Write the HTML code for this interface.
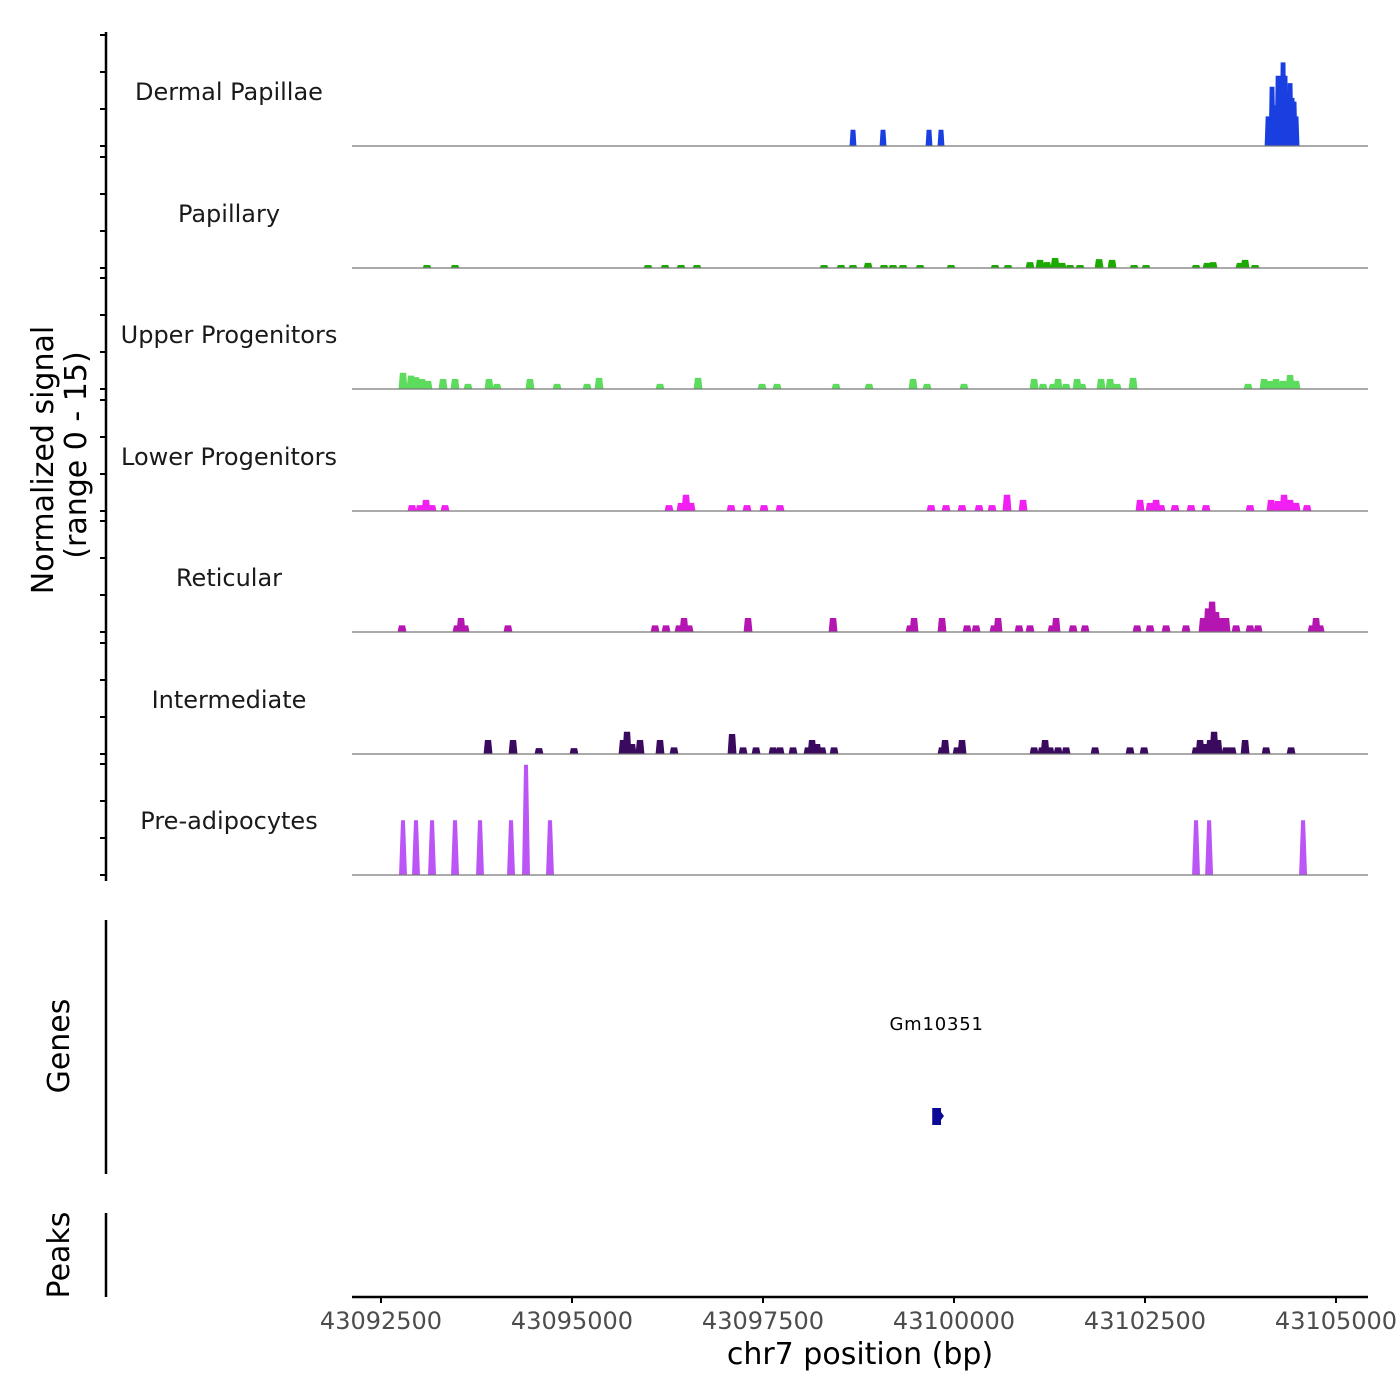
<!DOCTYPE html>
<html><head><meta charset="utf-8"><style>
html,body{margin:0;padding:0;background:#fff;}
svg{display:block;font-family:"DejaVu Sans","Liberation Sans",sans-serif;}
</style></head><body>
<svg id="chart" width="1400" height="1400" viewBox="0 0 1400 1400" xmlns="http://www.w3.org/2000/svg">
<g id="tracks"></g>
<g id="axes"></g>
</svg>
<script>
const trackNames = ["Dermal Papillae","Papillary","Upper Progenitors","Lower Progenitors","Reticular","Intermediate","Pre-adipocytes"];
const trackColors = ["#1a3fe0","#1aaa00","#5ddb5d","#f21ff2","#b515b0","#3a0a5e","#bb55f5"];
const xTicks = [43092500,43095000,43097500,43100000,43102500,43105000];
const xDomain = [43092000, 43105420];
// peak arrays: [center bp, value]
const dpPeaks = [[43098678,2.2],[43099071,2.2],[43099673,2.2],[43099830,2.2],[43104111,4],[43104163,8],[43104202,5.5],[43104242,9.5],[43104281,8],[43104307,11.3],[43104333,9.5],[43104373,6.5],[43104399,8.5],[43104425,6.5],[43104451,6],[43104477,4]];
const papPeaks = [[43093102,0.4],[43093469,0.4],[43095995,0.4],[43096218,0.4],[43096427,0.4],[43096636,0.4],[43098299,0.4],[43098521,0.4],[43098678,0.4],[43098875,0.7],[43099084,0.4],[43099202,0.4],[43099333,0.4],[43099556,0.4],[43099961,0.4],[43100537,0.4],[43100707,0.4],[43100995,0.8],[43101126,1.1],[43101218,0.8],[43101323,1.35],[43101414,0.7],[43101519,0.4],[43101650,0.4],[43101899,1.2],[43102069,1.1],[43102357,0.4],[43102514,0.4],[43103168,0.4],[43103312,0.7],[43103391,0.8],[43103744,0.7],[43103810,1.1],[43103941,0.4]];
const upPeaks = [[43092788,2.2],[43092893,1.8],[43092958,1.6],[43093037,1.35],[43093115,1.1],[43093312,1.35],[43093469,1.35],[43093639,0.7],[43093914,1.35],[43094018,0.7],[43094450,1.35],[43094804,0.7],[43095197,0.7],[43095354,1.5],[43096152,0.7],[43096650,1.5],[43097487,0.7],[43097684,0.7],[43098456,0.7],[43098888,0.7],[43099464,1.35],[43099647,0.7],[43100131,0.7],[43101048,1.35],[43101166,0.7],[43101296,0.7],[43101362,1.35],[43101467,0.7],[43101611,1.35],[43101676,0.7],[43101925,1.35],[43102043,1.35],[43102134,0.7],[43102344,1.5],[43103849,0.7],[43104058,1.35],[43104137,1.1],[43104216,1.35],[43104307,1.1],[43104399,1.9],[43104477,1.1]];
const lowPeaks = [[43092906,0.8],[43093011,0.8],[43093089,1.5],[43093168,0.8],[43093338,0.8],[43096270,0.8],[43096427,1.1],[43096492,2.2],[43096558,1.1],[43097082,0.8],[43097291,0.8],[43097513,0.8],[43097723,0.8],[43099700,0.8],[43099896,0.8],[43100105,0.8],[43100328,0.8],[43100498,0.8],[43100694,2.2],[43100904,1.5],[43102435,1.5],[43102566,1.1],[43102645,1.5],[43102710,0.8],[43102893,0.8],[43103103,0.8],[43103299,0.8],[43103875,0.8],[43104150,1.5],[43104242,1.35],[43104320,2.2],[43104399,1.5],[43104477,1.1],[43104621,0.8]];
const retPeaks = [[43092775,0.9],[43093495,0.9],[43093547,1.9],[43093600,0.9],[43094162,0.9],[43096087,0.9],[43096231,0.9],[43096401,0.9],[43096466,1.9],[43096532,0.9],[43097304,1.9],[43098417,1.9],[43099425,0.9],[43099477,1.9],[43099843,1.9],[43100171,0.9],[43100289,0.9],[43100524,0.9],[43100577,1.9],[43100851,0.9],[43100995,0.9],[43101283,0.9],[43101336,1.9],[43101558,0.9],[43101715,0.9],[43102396,0.9],[43102566,0.9],[43102776,0.9],[43103037,0.9],[43103260,1.9],[43103325,3.2],[43103378,4.1],[43103430,2.7],[43103496,1.9],[43103561,1.9],[43103692,0.9],[43103875,0.9],[43103980,0.9],[43104687,0.9],[43104739,1.9],[43104792,0.9]];
const intPeaks = [[43093901,1.9],[43094228,1.9],[43094568,0.8],[43095026,0.8],[43095668,1.9],[43095720,3.0],[43095786,1.35],[43095890,1.9],[43096152,1.9],[43096335,0.9],[43097095,2.7],[43097239,0.9],[43097409,0.9],[43097631,0.9],[43097723,0.9],[43097893,0.9],[43098089,0.9],[43098142,1.9],[43098207,1.35],[43098273,0.9],[43098430,0.9],[43099843,0.9],[43099883,1.9],[43100040,0.9],[43100105,1.9],[43101048,0.9],[43101152,0.9],[43101192,1.9],[43101257,0.9],[43101362,0.9],[43101467,0.9],[43101846,0.9],[43102304,0.9],[43102488,0.9],[43103168,0.9],[43103221,1.9],[43103286,1.35],[43103352,1.9],[43103404,3.0],[43103456,1.9],[43103561,0.9],[43103640,0.9],[43103810,1.9],[43104085,0.9],[43104412,0.9]];
const preadPeaks = [[43092788,7.4],[43092958,7.4],[43093168,7.4],[43093469,7.4],[43093796,7.4],[43094202,7.4],[43094398,14.9],[43094712,7.4],[43103168,7.4],[43103339,7.4],[43104569,7.4]];
const allPeaks = [dpPeaks,papPeaks,upPeaks,lowPeaks,retPeaks,intPeaks,preadPeaks];
const geneName = "Gm10351";
const geneStart = 43099715, geneEnd = 43099830;

const NS="http://www.w3.org/2000/svg";
const X0=352, X1=1368;
const xScale = v => 381 + (v-43092500)*(955/12500);
const baselines = [146,268,389,511,632,754,875];
const yPerUnit = 7.4;
function mk(tag, attrs, parent){const e=document.createElementNS(NS,tag);for(const k in attrs)e.setAttribute(k,attrs[k]);parent.appendChild(e);return e;}
const tracks=document.getElementById('tracks');
const axes=document.getElementById('axes');

allPeaks.forEach((peaks,i)=>{
  const g=mk('g',{},tracks);
  
  
  const yb=baselines[i];
  const lab=mk('text',{x:229,y:yb-46,'text-anchor':'middle','font-size':24,fill:'#1a1a1a'},g);
  lab.textContent=trackNames[i];
  
  
  const half = i===6 ? 52 : (i===0 ? 45 : 58);
  peaks.forEach(p=>{
    const cx=xScale(p[0]), h=p[1]*yPerUnit;
    const hw=half*955/12500, tw=hw*(i===6?0.5:0.7);
    const poly=mk('polygon',{points:`${cx-hw},${yb} ${cx-tw},${yb-h} ${cx+tw},${yb-h} ${cx+hw},${yb}`,fill:trackColors[i]},g);
    
    
  });
  const bl=mk('line',{x1:X0,x2:X1,y1:yb,y2:yb,stroke:'#777','stroke-width':1.2},g);
  
  
});

// left signal axis
const la=mk('line',{x1:106,x2:106,y1:32,y2:881,stroke:'#000','stroke-width':2.5},axes);


baselines.forEach(yb=>{
  [0,5,10,15].forEach(v=>{
    const y=yb-v*yPerUnit;
    const t=mk('line',{x1:100,x2:106,y1:y,y2:y,stroke:'#000','stroke-width':2},axes);
    
    
  });
});
const yt=mk('text',{transform:'translate(53,460) rotate(-90)','text-anchor':'middle','font-size':30,fill:'#000'},axes);
yt.textContent='Normalized signal';


const yt2=mk('text',{transform:'translate(86,455) rotate(-90)','text-anchor':'middle','font-size':30,fill:'#000'},axes);
yt2.textContent='(range 0 - 15)';



// genes panel
const ga=mk('line',{x1:106,x2:106,y1:920,y2:1174,stroke:'#000','stroke-width':2.5},axes);


const gt=mk('text',{transform:'translate(69,1046) rotate(-90)','text-anchor':'middle','font-size':30,fill:'#000'},axes);
gt.textContent='Genes';


const gx1=xScale(geneStart), gx2=xScale(geneEnd);
const gb=mk('rect',{x:gx1,y:1108,width:gx2-gx1,height:17,fill:'#0a0a96'},axes);


const ga2=mk('polygon',{points:`${gx2},1112 ${gx2+3},1116 ${gx2},1120`,fill:'#0a0a96'},axes);


const gl=mk('text',{x:(gx1+gx2)/2,y:1030,'text-anchor':'middle','font-size':18,fill:'#000','letter-spacing':'0.8'},axes);
gl.textContent=geneName;



// peaks panel
const pa=mk('line',{x1:106,x2:106,y1:1213,y2:1297,stroke:'#000','stroke-width':2.5},axes);


const pt=mk('text',{transform:'translate(69,1255) rotate(-90)','text-anchor':'middle','font-size':30,fill:'#000'},axes);
pt.textContent='Peaks';



// x axis
const xa=mk('line',{x1:X0,x2:X1,y1:1297,y2:1297,stroke:'#000','stroke-width':2.5},axes);


xTicks.forEach(v=>{
  const x=xScale(v);
  const t=mk('line',{x1:x,x2:x,y1:1297,y2:1303,stroke:'#000','stroke-width':2},axes);
  
  
  const l=mk('text',{x:x,y:1329,'text-anchor':'middle','font-size':24,fill:'#4d4d4d'},axes);
  l.textContent=String(v);
  
  
});
const xt=mk('text',{x:860,y:1364,'text-anchor':'middle','font-size':30,fill:'#000'},axes);
xt.textContent='chr7 position (bp)';


</script>
</body></html>
